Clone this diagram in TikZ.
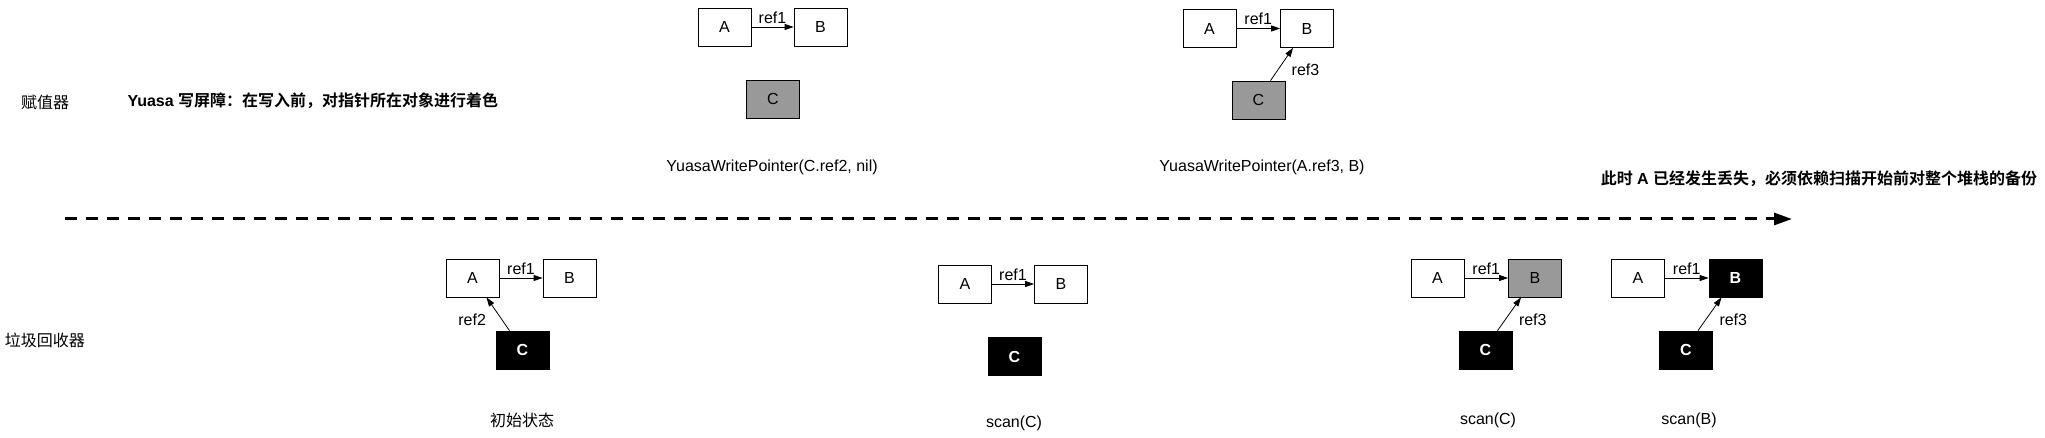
\documentclass[tikz,border=0pt]{standalone}
\usepackage{fontspec}
\setmainfont{Liberation Sans}
\newfontfamily\cjk{Noto Sans CJK SC}[BoldFont={Noto Sans CJK SC Bold}]
\usetikzlibrary{arrows.meta}

\begin{document}
\begin{tikzpicture}[x=1pt, y=-1pt, font=\fontsize{16}{19}\selectfont,
  obj/.style={draw, line width=0.8pt, minimum width=53pt, minimum height=38pt, inner sep=0pt},
  grey/.style={obj, fill=black!40},
  dark/.style={obj, fill=black, text=white, font=\fontsize{16}{19}\selectfont\bfseries},
  ref/.style={-{Triangle[length=9pt,width=6pt]}, line width=0.8pt}]
\useasboundingbox (0,0) rectangle (2045,438);
\node (mut) at (45,102) {\cjk 赋值器};
\node (gc) at (45,340) {\cjk 垃圾回收器};
\node[anchor=west, font=\fontsize{16}{19}\selectfont\bfseries] (rule) at (124,101) {Yuasa {\cjk 写屏障：在写入前，对指针所在对象进行着色}};
\node[font=\fontsize{16}{19}\selectfont\bfseries] (lost) at (1819,179) {{\cjk 此时} A {\cjk 已经发生丢失，必须依赖扫描开始前对整个堆栈的备份}};
\coordinate (t0) at (65,219);
\coordinate (t1) at (1792,219);
\draw[line width=3pt, dash pattern=on 12pt off 9pt, -{Triangle[length=18pt,width=12pt]}] (t0) -- (t1);

\node[obj] (a1) at (472.5,278) {A};
\node[obj] (b1) at (569.5,278) {B};
\node[dark] (c1) at (522.5,350) {C};
\draw[ref] (a1) -- node[above] {ref1} (b1);
\draw[ref] ([xshift=-13pt]c1.north) -- node[left=12pt, pos=0.34] {ref2} ([xshift=14pt]a1.south);
\node (s1) at (522,420) {\cjk 初始状态};

\node[obj] (a2) at (724.5,27) {A};
\node[obj] (b2) at (820.5,27) {B};
\node[grey] (c2) at (773,99) {C};
\draw[ref] (a2) -- node[above] {ref1} (b2);
\node (s2) at (772,167) {YuasaWritePointer(C.ref2, nil)};

\node[obj] (a3) at (965,284) {A};
\node[obj] (b3) at (1061,284) {B};
\node[dark] (c3) at (1014.5,356.5) {C};
\draw[ref] (a3) -- node[above] {ref1} (b3);
\node (s3) at (1014,423) {scan(C)};

\node[obj] (a4) at (1209.5,28.5) {A};
\node[obj] (b4) at (1307,28.5) {B};
\node[grey] (c4) at (1258.5,100) {C};
\draw[ref] (a4) -- node[above] {ref1} (b4);
\draw[ref] ([xshift=12pt]c4.north) -- node[right=10pt, pos=0.33] {ref3} ([xshift=-14pt]b4.south);
\node (s4) at (1262,167) {YuasaWritePointer(A.ref3, B)};

\node[obj] (a5) at (1437.5,278) {A};
\node[grey] (b5) at (1535,278) {B};
\node[dark] (c5) at (1485.5,350) {C};
\draw[ref] (a5) -- node[above] {ref1} (b5);
\draw[ref] ([xshift=12pt]c5.north) -- node[right=10pt, pos=0.33] {ref3} ([xshift=-14pt]b5.south);
\node (s5) at (1488,420) {scan(C)};

\node[obj] (a6) at (1638,278) {A};
\node[dark] (b6) at (1735.5,278) {B};
\node[dark] (c6) at (1686,350) {C};
\draw[ref] (a6) -- node[above] {ref1} (b6);
\draw[ref] ([xshift=12pt]c6.north) -- node[right=10pt, pos=0.33] {ref3} ([xshift=-14pt]b6.south);
\node (s6) at (1689,420) {scan(B)};
\end{tikzpicture}
\end{document}
